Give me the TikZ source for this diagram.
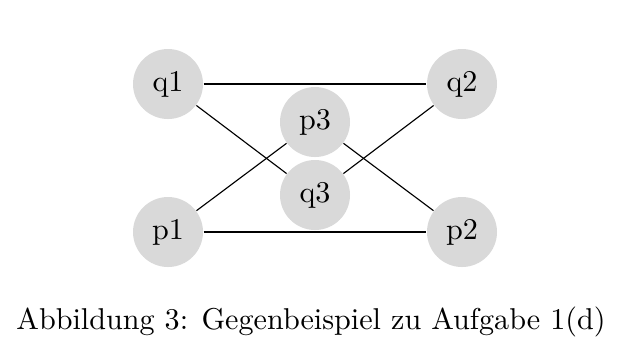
\documentclass[tikz,border=0pt]{standalone}
\begin{document}
\begin{tikzpicture}[x=0.35pt,y=-0.35pt,font=\fontsize{10.55}{12.6}\selectfont,
  vert/.style={circle,fill=gray!30,minimum size=24.5pt,inner sep=0pt},
  edge/.style={draw=black,line width=0.4pt}]
\useasboundingbox (0,0) rectangle (621,357);
\node[vert] (q1) at (168,84) {q1};
\node[vert] (q2) at (462,84) {q2};
\node[vert] (p3) at (315,122) {p3};
\node[vert] (q3) at (315,195) {q3};
\node[vert] (p1) at (168,232) {p1};
\node[vert] (p2) at (462,232) {p2};
\draw[edge] (q1) -- (q2);
\draw[edge] (p1) -- (p2);
\draw[edge] (q1) -- (q3);
\draw[edge] (p1) -- (p3);
\draw[edge] (q2) -- (q3);
\draw[edge] (p3) -- (p2);
\node (cap) at (311,322) {Abbildung 3: Gegenbeispiel zu Aufgabe 1(d)};
\end{tikzpicture}
\end{document}
